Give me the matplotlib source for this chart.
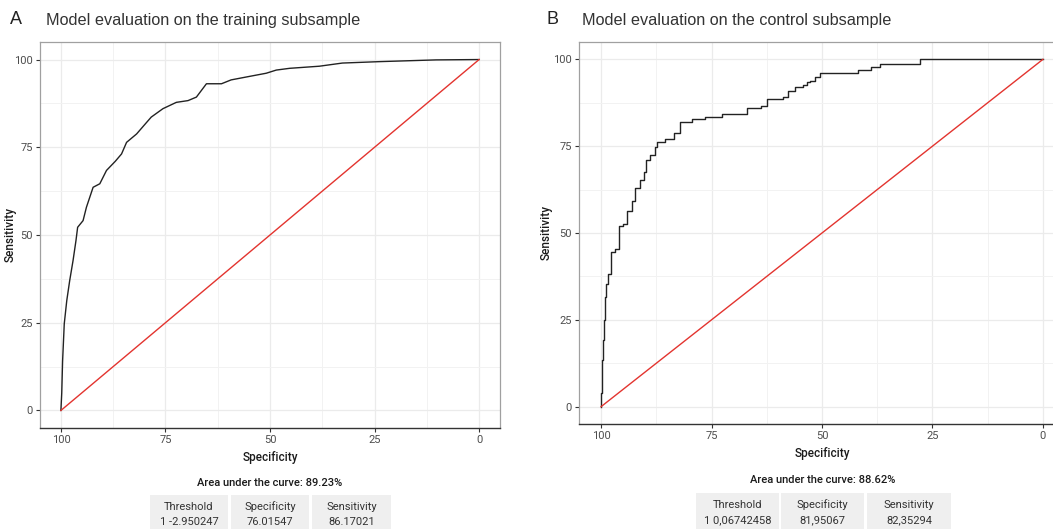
import matplotlib
matplotlib.use('Agg')
import matplotlib.pyplot as plt
from matplotlib.patches import Rectangle

# ROC curve of the training subsample (specificity, sensitivity)
train_spec = [100, 99.8, 99.6, 99.2, 98.6, 97.9, 97.1, 96.4, 96.0, 94.7, 93.9, 92.3, 90.7,
              89.1, 87.0, 85.5, 84.3, 81.9, 79.5, 78.4, 75.6, 72.4, 69.6, 67.6, 65.2, 61.6,
              59.3, 54.9, 50.9, 48.5, 45.3, 38.2, 32.7, 23.9, 10.3, 0]
train_sens = [0, 5, 14, 24.7, 31.3, 37, 42.7, 48.4, 52.2, 54.1, 57.9, 63.6, 64.6,
              68.4, 71, 73.1, 76.4, 78.8, 82.1, 83.6, 86.0, 87.8, 88.3, 89.3, 93.1, 93.1,
              94.2, 95.2, 96.1, 97.0, 97.5, 98.1, 99.0, 99.4, 99.9, 100]

# ROC curve of the control subsample: spec at each jump, sens after the jump
ctrl_spec = [100, 100, 99.8, 99.6, 99.3, 99.1, 98.9, 98.5, 97.8, 96.9, 96.0, 95.0, 94.2,
             93.1, 92.3, 91.2, 90.4, 89.8, 88.9, 87.8, 87.4, 85.5, 83.6, 82.1, 79.5, 76.5,
             72.7, 67.0, 63.7, 62.5, 58.8, 57.6, 56.1, 54.2, 53.5, 52.7, 51.6, 50.5, 41.8,
             38.8, 36.9, 27.8, 0]
ctrl_sens = [0, 4, 13.4, 19.1, 24.9, 31.5, 35.3, 38.2, 44.4, 45.3, 52.0, 52.5, 56.3,
             59.1, 62.9, 65.3, 67.7, 71.0, 72.5, 74.9, 76.3, 77.0, 78.7, 82.0, 82.8, 83.4,
             84.4, 86.0, 86.6, 88.5, 89.1, 90.8, 92.0, 92.7, 93.4, 93.9, 94.9, 96.1, 96.9,
             97.9, 98.6, 100, 100]

panel_letters = ['A', 'B']
titles = ['Model evaluation on the training subsample',
          'Model evaluation on the control subsample']
auc_texts = ['Area under the curve: 89.23%', 'Area under the curve: 88.62%']
table_head = ['Threshold', 'Specificity', 'Sensitivity']
table_rows = [['1 -2.950247', '76.01547', '86.17021'],
              ['1 0,06742458', '81,95067', '82,35294']]
ticks = [0, 25, 50, 75, 100]

W, H = 1053, 529
fig = plt.figure(figsize=(W / 100, H / 100), dpi=100)


def px(x0, y0, x1, y1):
    # pixel box (left, top, right, bottom) -> figure fraction rect
    return [x0 / W, 1 - y1 / H, (x1 - x0) / W, (y1 - y0) / H]


def style_axes(ax, ylab_x):
    ax.set_xlim(105, -5)
    ax.set_ylim(-5, 105)
    ax.set_xticks(ticks)
    ax.set_yticks(ticks)
    ax.set_xticks([12.5, 37.5, 62.5, 87.5], minor=True)
    ax.set_yticks([12.5, 37.5, 62.5, 87.5], minor=True)
    ax.tick_params(which='minor', length=0)
    ax.tick_params(which='major', length=3, width=0.8, color='#333333',
                   labelsize=8, labelcolor='#4d4d4d', pad=2)
    for lab in ax.get_xticklabels() + ax.get_yticklabels():
        lab.set_family('Roboto')
    ax.grid(True, which='major', color='#ebebeb', lw=0.9)
    ax.grid(True, which='minor', color='#f2f2f2', lw=0.7)
    ax.set_axisbelow(True)
    for s in ['top', 'right', 'left']:
        ax.spines[s].set_color('#a0a0a0')
        ax.spines[s].set_linewidth(0.9)
    ax.spines['bottom'].set_color('#333333')
    ax.spines['bottom'].set_linewidth(1.0)
    ax.set_xlabel('Specificity', family='Roboto', fontsize=8.5, fontweight='medium',
                  color='#1a1a1a', labelpad=4)
    ax.set_ylabel('Sensitivity', family='Roboto', fontsize=8.5, fontweight='medium',
                  color='#1a1a1a')
    ax.yaxis.set_label_coords(ylab_x, 0.5)


ax1 = fig.add_axes(px(40, 42, 500, 428))
ax2 = fig.add_axes(px(579, 42, 1065, 424))
axes = [ax1, ax2]

ax1.plot(train_spec, train_sens, color='#222222', lw=1.0)
ax2.plot(ctrl_spec, ctrl_sens, color='#222222', lw=1.0, drawstyle='steps-post')
ylab_pos = [(17 - 40) / 460, (553 - 579) / 486]
for ax, yl in zip(axes, ylab_pos):
    ax.plot([100, 0], [0, 100], color='#e3342f', lw=1.0)
    style_axes(ax, yl)

# panel letters and titles
letter_x = [16, 552]
title_x = [46, 582]
for i in range(2):
    fig.text(letter_x[i] / W, 1 - 20 / H, panel_letters[i], ha='center', va='center',
             family='Liberation Sans', fontsize=13, color='#222222')
    fig.text(title_x[i] / W, 1 - 20 / H, titles[i], ha='left', va='center',
             family='Liberation Sans', fontsize=11.7, color='#333333')

# AUC text and threshold table under each panel
auc_x = [270, 823]
auc_y = [483, 480]
cell_x = [[150, 231, 312], [696, 781, 867]]
cell_w = [[78, 78, 79], [83, 83, 84]]
cell_top = [495, 493]
for i in range(2):
    fig.text(auc_x[i] / W, 1 - auc_y[i] / H, auc_texts[i], ha='center', va='center',
             family='Roboto', fontsize=8, fontweight='medium', color='#1a1a1a')
    for j in range(3):
        x0 = cell_x[i][j]
        w = cell_w[i][j]
        fig.add_artist(Rectangle((x0 / W, 0), w / W, (H - cell_top[i]) / H,
                                 transform=fig.transFigure, facecolor='#efefef',
                                 edgecolor='none'))
        cx = (x0 + w / 2) / W
        fig.text(cx, 1 - (cell_top[i] + 12) / H, table_head[j], ha='center', va='center',
                 family='Roboto', fontsize=8, color='#333333')
        fig.text(cx, 1 - (cell_top[i] + 27) / H, table_rows[i][j], ha='center', va='center',
                 family='Roboto', fontsize=8, color='#333333')

fig.savefig('out.png', dpi=100)
